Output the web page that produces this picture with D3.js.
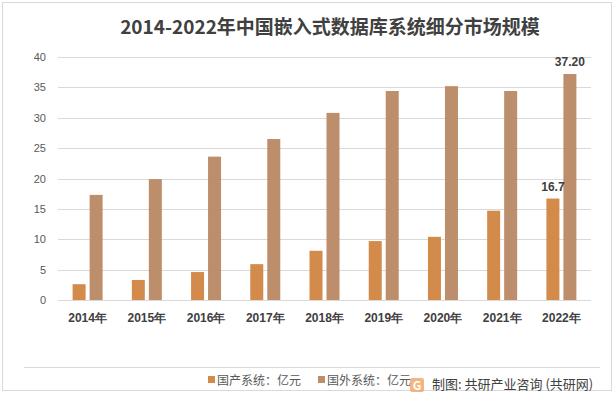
<!DOCTYPE html>
<html>
<head>
<meta charset="utf-8">
<script src="https://cdn.jsdelivr.net/npm/d3@7"></script>
<style>
  body { margin: 0; background: #fff; }
  svg { font-family: "Noto Sans CJK SC", "Noto Sans", sans-serif; }
  .axis path { display: none; }
  .axis line { display: none; }
</style>
</head>
<body>
<div class="chart"></div>
<script>
// données
var annees = ["2014年", "2015年", "2016年", "2017年", "2018年", "2019年", "2020年", "2021年", "2022年"];
var domestique = [2.6, 3.3, 4.6, 5.9, 8.1, 9.7, 10.4, 14.7, 16.7];
var etranger = [17.3, 19.9, 23.6, 26.5, 30.8, 34.4, 35.2, 34.4, 37.2];
var series = ["国产系统：亿元", "国外系统：亿元"];
var etiquettes = [{serie: 0, index: 8, texte: "16.7"}, {serie: 1, index: 8, texte: "37.20"}];
var yTicks = [0, 5, 10, 15, 20, 25, 30, 35, 40];
var titre = "2014-2022年中国嵌入式数据库系统细分市场规模";

var W = 614, H = 393;
var margin = {top: 57, right: 23, bottom: 93, left: 58},
    width = W - margin.left - margin.right,
    height = H - margin.top - margin.bottom;
var couleurs = ["#D38B4C", "#BC8E6B"];

var svg = d3.select(".chart").append("svg")
    .attr("width", W)
    .attr("height", H);

// cadre
svg.append("rect")
    .attr("x", 2.5).attr("y", 2.5)
    .attr("width", W - 5).attr("height", H - 5)
    .attr("fill", "#fff")
    .attr("stroke", "#D9D9D9");

// titre
svg.append("text")
    .attr("x", 330)
    .attr("y", 34)
    .attr("text-anchor", "middle")
    .style("font-size", "19px")
    .style("font-weight", "bold")
    .style("fill", "#404040")
    .text(titre);

var canvas = svg.append("g")
    .attr("transform", "translate(" + margin.left + "," + margin.top + ")");

var xScale = d3.scaleBand()
    .domain(annees)
    .range([0, width]);

var yScale = d3.scaleLinear()
    .domain([0, 40])
    .range([height, 0]);

// grille
canvas.append("g")
    .selectAll("line")
    .data(yTicks)
    .enter().append("line")
    .attr("x1", 0)
    .attr("x2", width)
    .attr("y1", function (d) { return Math.round(yScale(d)) + 0.5; })
    .attr("y2", function (d) { return Math.round(yScale(d)) + 0.5; })
    .attr("stroke", "#D9D9D9")
    .attr("stroke-width", 1);

// axe Y
var yAxis = d3.axisLeft(yScale).tickValues(yTicks).tickSize(0).tickPadding(12);
canvas.append("g")
    .attr("class", "axis")
    .call(yAxis)
    .selectAll("text")
    .style("font-size", "11px")
    .style("font-family", "Liberation Sans, Arial, sans-serif")
    .style("fill", "#595959");

// axe X
var xAxis = d3.axisBottom(xScale).tickSize(0).tickPadding(13);
canvas.append("g")
    .attr("class", "axis")
    .attr("transform", "translate(0," + height + ")")
    .call(xAxis)
    .selectAll("text")
    .style("font-size", "12px")
    .style("font-weight", "bold")
    .style("fill", "#404040");

var barW = 13, gap = 4;
var valeurs = [domestique, etranger];

valeurs.forEach(function (vals, s) {
    canvas.append("g")
        .selectAll("rect")
        .data(vals)
        .enter().append("rect")
        .attr("x", function (d, i) {
            var c = xScale(annees[i]) + xScale.bandwidth() / 2;
            return s === 0 ? c - gap / 2 - barW : c + gap / 2;
        })
        .attr("y", function (d) { return yScale(d); })
        .attr("width", barW)
        .attr("height", function (d) { return height - yScale(d); })
        .attr("fill", couleurs[s]);
});

// étiquettes de valeur
canvas.append("g")
    .selectAll("text")
    .data(etiquettes)
    .enter().append("text")
    .attr("x", function (d) {
        var c = xScale(annees[d.index]) + xScale.bandwidth() / 2;
        return d.serie === 0 ? c - gap / 2 - barW / 2 : c + gap / 2 + barW / 2;
    })
    .attr("y", function (d) { return yScale(valeurs[d.serie][d.index]) - 8; })
    .attr("text-anchor", "middle")
    .style("font-size", "12px")
    .style("font-weight", "bold")
    .style("font-family", "Liberation Sans, Arial, sans-serif")
    .style("fill", "#404040")
    .text(function (d) { return d.texte; });

// ligne de séparation
svg.append("line")
    .attr("x1", 24).attr("x2", 600)
    .attr("y1", 367.5).attr("y2", 367.5)
    .attr("stroke", "#D9D9D9");

// légende
var legendX = [208, 318];
var legende = svg.append("g");
series.forEach(function (nom, s) {
    legende.append("rect")
        .attr("x", legendX[s])
        .attr("y", 376)
        .attr("width", 7)
        .attr("height", 7)
        .attr("fill", couleurs[s]);
    legende.append("text")
        .attr("x", legendX[s] + 9)
        .attr("y", 385)
        .style("font-size", "12px")
        .style("fill", "#595959")
        .text(nom);
});

// logo + source
var logo = svg.append("g").attr("transform", "translate(410,378)");
logo.append("rect")
    .attr("width", 14).attr("height", 14).attr("rx", 2)
    .attr("fill", "#F2A86B").attr("opacity", 0.85);
logo.append("text")
    .attr("x", 7).attr("y", 11.5)
    .attr("text-anchor", "middle")
    .style("font-size", "12px")
    .style("font-weight", "bold")
    .style("fill", "#fff")
    .text("G");

svg.append("text")
    .attr("x", 432)
    .attr("y", 389)
    .style("font-size", "13px")
    .style("fill", "#404040")
    .text("制图: 共研产业咨询 (共研网)");
</script>
</body>
</html>
